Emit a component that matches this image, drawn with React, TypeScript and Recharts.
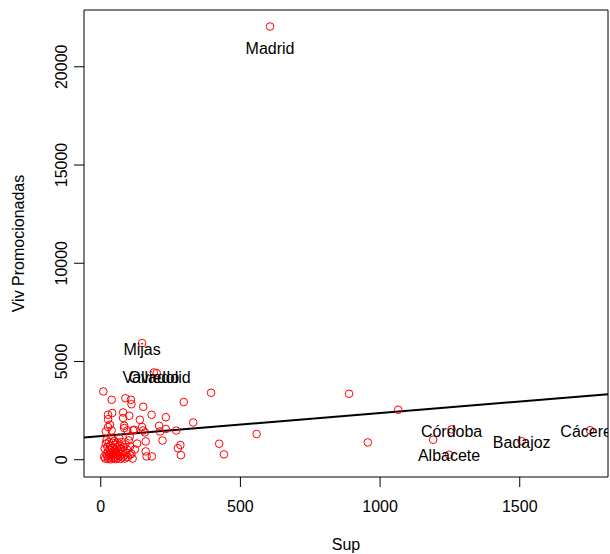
import React from 'react';
import { ScatterChart, Scatter, XAxis, YAxis, ReferenceArea, ReferenceLine, Label } from 'recharts';

// labelled municipalities (Sup, Viv Promocionadas)
const labeledCities = ['Madrid', 'Mijas', 'Oviedo', 'Valladolid', 'Córdoba', 'Albacete', 'Badajoz', 'Cáceres'];
const labeledSup = [606, 148, 190, 200, 1256, 1247, 1507, 1752];
const labeledViv = [22050, 5935, 4440, 4410, 1546, 254, 941, 1500];

// the rest of the municipalities, [Sup, Viv]
const otherCities: [number, number][] = [
    [889, 3357], [1065, 2543], [956, 880], [1190, 1017], [558, 1307], [424, 814], [441, 270],
    [395, 3408], [297, 2935], [331, 1892], [270, 1485], [285, 748], [276, 585], [287, 229],
    [233, 2162], [221, 977], [212, 1439], [209, 1729], [233, 1561], [182, 2289], [152, 2695],
    [161, 931], [161, 422], [164, 168], [183, 168], [148, 1663], [152, 1490], [158, 1388],
    [140, 2034], [116, 1490], [110, 2823], [108, 3051], [88, 3128], [102, 2238], [84, 1729],
    [95, 1490], [80, 2406], [80, 2121], [39, 3050], [41, 2375], [26, 2289], [26, 2060],
    [33, 1780], [26, 1663], [18, 1440], [39, 1490], [9, 3474], [104, 1185], [84, 1612],
    [120, 1526], [104, 255],
    [12, 150], [14, 560], [16, 60], [18, 820], [20, 300], [21, 1000], [23, 180], [24, 640],
    [26, 40], [27, 420], [29, 900], [30, 250], [31, 110], [33, 720], [34, 480], [36, 20],
    [37, 340], [38, 1080], [40, 600], [41, 200], [43, 860], [44, 70], [45, 420], [47, 300],
    [48, 960], [50, 150], [51, 540], [52, 760], [54, 30], [55, 380], [57, 640], [58, 230],
    [60, 880], [61, 90], [63, 480], [65, 320], [66, 1120], [68, 180], [69, 700], [71, 40],
    [72, 560], [74, 280], [76, 900], [78, 120], [80, 440], [82, 640], [84, 220], [86, 60],
    [88, 780], [91, 350], [94, 520], [97, 140], [100, 980], [105, 680], [110, 300], [114, 60],
    [122, 520], [130, 820],
];

// lm fit
const fitIntercept = 1201;
const fitSlope = 1.173;
const labelShift = 0.95;

const xTicks = [0, 500, 1000, 1500];
const yTicks = [0, 5000, 10000, 15000, 20000];
const xDomain: [number, number] = [-60, 1816];
const yDomain: [number, number] = [-880, 22890];

const FONT = '"Liberation Sans", Arial, Helvetica, sans-serif';

const points = [
    ...otherCities.map(([x, y]) => ({ x, y })),
    ...labeledSup.map((x, i) => ({ x, y: labeledViv[i] })),
];
const labelPoints = labeledCities.map((name, i) => ({ x: labeledSup[i], y: labeledViv[i] * labelShift, name }));

const Ring = (props: any) => (
    <circle cx={props.cx} cy={props.cy} r={3.8} fill="none" stroke="#ff0000" strokeWidth={1} />
);

const CityText = (props: any) => (
    <text x={props.cx} y={props.cy} dy="0.36em" textAnchor="middle" fontSize={16} fontFamily={FONT} fill="#000">
        {props.payload.name}
    </text>
);

const YTick = (props: any) => {
    const { x, y, payload } = props;
    return (
        <text x={x} y={y} dy="0.36em" transform={`rotate(-90 ${x} ${y})`} textAnchor="middle"
            fontSize={16} fontFamily={FONT} fill="#000">
            {payload.value}
        </text>
    );
};

const App = () => {
    return (
        <div style={{ position: 'absolute', left: 0, top: 0, background: '#fff' }}>
            <ScatterChart width={610} height={554} margin={{ top: 10, right: 2, bottom: 0, left: 0 }}>
                <XAxis type="number" dataKey="x" domain={xDomain} ticks={xTicks} allowDataOverflow
                    height={77} tickSize={10} tickMargin={14} axisLine={false}
                    tickLine={{ stroke: '#000' }} tick={{ fill: '#000', fontSize: 16, fontFamily: FONT }}>
                    <Label content={(p: any) => {
                        const vb = p.viewBox || { x: 84, y: 477, width: 524 };
                        return (
                            <text x={vb.x + vb.width / 2} y={vb.y + 67} dy="0.36em" textAnchor="middle"
                                fontSize={16} fontFamily={FONT} fill="#000">Sup</text>
                        );
                    }} />
                </XAxis>
                <YAxis type="number" dataKey="y" domain={yDomain} ticks={yTicks} allowDataOverflow
                    width={84} tickSize={10} tickMargin={13} axisLine={false}
                    tickLine={{ stroke: '#000' }} tick={<YTick />}>
                    <Label content={(p: any) => {
                        const vb = p.viewBox || { y: 10, height: 467 };
                        const cy = vb.y + vb.height / 2;
                        return (
                            <text x={18.5} y={cy} dy="0.36em" transform={`rotate(-90 18.5 ${cy})`} textAnchor="middle"
                                fontSize={16} fontFamily={FONT} fill="#000">Viv Promocionadas</text>
                        );
                    }} />
                </YAxis>
                <Scatter data={points} shape={<Ring />} isAnimationActive={false} />
                <ReferenceLine
                    segment={[
                        { x: xDomain[0], y: fitIntercept + fitSlope * xDomain[0] },
                        { x: xDomain[1], y: fitIntercept + fitSlope * xDomain[1] },
                    ]}
                    stroke="#000" strokeWidth={2} />
                <Scatter data={labelPoints} shape={<CityText />} isAnimationActive={false} />
                <ReferenceArea x1={xDomain[0]} x2={xDomain[1]} y1={yDomain[0]} y2={yDomain[1]}
                    fill="none" stroke="#000" strokeWidth={1} ifOverflow="visible" />
            </ScatterChart>
        </div>
    );
};

export default App;
